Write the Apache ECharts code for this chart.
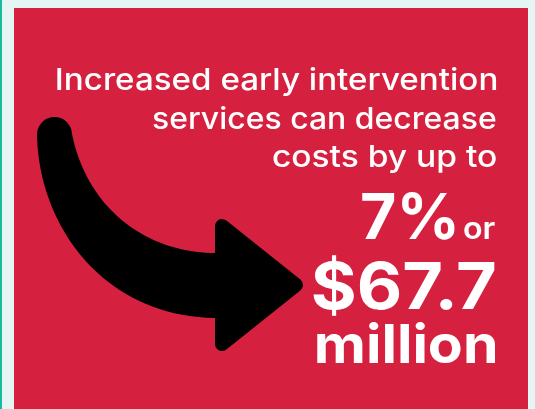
<!DOCTYPE html>
<html><head><meta charset="utf-8">
<script src="https://cdn.jsdelivr.net/npm/echarts@6/dist/echarts.min.js"></script>
<style>html,body{margin:0;padding:0;background:#e4f5f3}#c{width:535px;height:409px}</style>
</head><body><div id="c"></div>
<script>
var introLines = ['Increased early intervention', 'services can decrease', 'costs by up to'];
var percentValue = '7%';
var joinWord = 'or';
var dollarValue = '$67.7';
var unitWord = 'million';

var FONT = 'Inter, "DejaVu Sans", sans-serif';
var ctx = document.createElement('canvas').getContext('2d');
function metrics(t, size, weight, base) {
  ctx.font = weight + ' ' + size + 'px ' + FONT;
  ctx.textBaseline = base || 'alphabetic';
  return ctx.measureText(t);
}
function bez(p0, p1, p2, p3, n) {
  var out = [];
  for (var i = 0; i <= n; i++) {
    var t = i / n, u = 1 - t;
    out.push([u*u*u*p0[0] + 3*u*u*t*p1[0] + 3*u*t*t*p2[0] + t*t*t*p3[0],
              u*u*u*p0[1] + 3*u*u*t*p1[1] + 3*u*t*t*p2[1] + t*t*t*p3[1]]);
  }
  return out;
}
// place text so that its ink spans [L,R] horizontally, baseline at B, reference glyph height refH
function fitText(t, weight, L, R, B, refGlyph, refH) {
  var a100 = metrics(refGlyph, 100, weight).actualBoundingBoxAscent;
  var size = 100 * refH / a100;
  var m = metrics(t, size, weight);
  var inkL = -m.actualBoundingBoxLeft, inkR = m.actualBoundingBoxRight;
  var s = (R - L) / (inkR - inkL);
  var x0 = L - s * inkL;
  var hAlpha = metrics('H', size, weight, 'alphabetic').actualBoundingBoxAscent;
  var hMid = metrics('H', size, weight, 'middle').actualBoundingBoxAscent;
  var d = hAlpha - hMid;
  return {type: 'text', x: x0, y: B - d, scaleX: s, scaleY: 1,
    style: {text: t, x: 0, y: 0, align: 'left', verticalAlign: 'middle', lineHeight: size,
      fill: '#ffffff', font: weight + ' ' + size.toFixed(2) + 'px ' + FONT}};
}

var chart = echarts.init(document.getElementById('c'), null, {renderer: 'canvas'});
var els = [];
els.push({type: 'rect', shape: {x: 0, y: 0, width: 535, height: 409}, style: {fill: '#e4f5f3'}, silent: true});
els.push({type: 'rect', shape: {x: 0, y: 0, width: 2, height: 409}, style: {fill: '#17b99f'}});
els.push({type: 'rect', shape: {x: 14, y: 8, width: 514, height: 401}, style: {fill: '#d6203f'}});
// arrow
var shaft = bez([37, 134], [38, 222], [100, 316], [215, 318], 40)
  .concat([[226, 318], [226, 253]])
  .concat(bez([215, 253], [150, 253], [88, 212], [72, 134], 40));
els.push({type: 'polygon', shape: {points: shaft}, style: {fill: '#000'}});
els.push({type: 'circle', shape: {cx: 54.5, cy: 134.5, r: 17.5}, style: {fill: '#000'}});
els.push({type: 'polygon', shape: {points: [[222, 226], [222, 344], [296, 285]]}, style: {fill: '#000', stroke: '#000', lineWidth: 14, lineJoin: 'round'}});

var introLayout = [[57, 496, 90], [153, 496, 129], [273, 496, 167]];
introLines.forEach(function (t, i) {
  var p = introLayout[i];
  els.push(fitText(t, 500, p[0], p[1], p[2], 'I', 22));
});
els.push(fitText(joinWord, 600, 464, 495, 239, 'x', 17));
els.push(fitText(percentValue, 700, 362, 455, 239, '7', 46));
els.push(fitText(dollarValue, 700, 313, 495, 309, '6', 48));
els.push(fitText(unitWord, 700, 317, 495, 363, 'l', 39));

chart.setOption({animation: false, graphic: {elements: els}});
</script></body></html>
